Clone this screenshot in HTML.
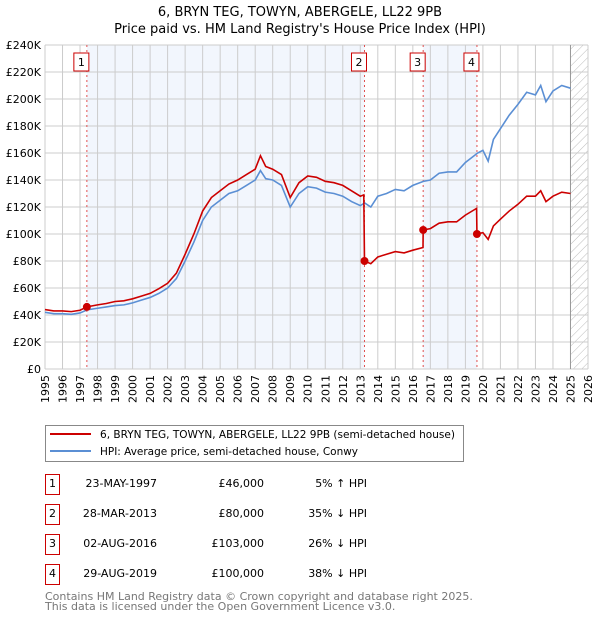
<!DOCTYPE html>
<html><head><meta charset="utf-8"><style>
body{margin:0;background:#fff;font-family:"DejaVu Sans","Liberation Sans",sans-serif;}
svg text{font-family:"DejaVu Sans","Liberation Sans",sans-serif;}
</style></head><body>
<svg id="c" width="600" height="620" xmlns="http://www.w3.org/2000/svg">
<defs><pattern id="hatch" width="6" height="6" patternUnits="userSpaceOnUse" patternTransform="rotate(45)"><line x1="0" y1="0" x2="0" y2="6" stroke="#bbb" stroke-width="1"/></pattern></defs>
<text x="300" y="16" text-anchor="middle" font-size="13">6, BRYN TEG, TOWYN, ABERGELE, LL22 9PB</text>
<text x="300" y="33" text-anchor="middle" font-size="13">Price paid vs. HM Land Registry's House Price Index (HPI)</text>
<g id="plot"></g>
<g>
<rect x="45.5" y="425.5" width="418" height="36" fill="#fff" stroke="#888"/>
<line x1="50" y1="434" x2="91" y2="434" stroke="#cc0000" stroke-width="2"/>
<text x="100" y="438" font-size="11" textLength="355" lengthAdjust="spacingAndGlyphs">6, BRYN TEG, TOWYN, ABERGELE, LL22 9PB (semi-detached house)</text>
<line x1="50" y1="451" x2="91" y2="451" stroke="#5b8fd4" stroke-width="2"/>
<text x="100" y="455" font-size="11" textLength="258" lengthAdjust="spacingAndGlyphs">HPI: Average price, semi-detached house, Conwy</text>
</g>
<g id="table" font-size="11"></g>
<text x="45" y="600" font-size="11" fill="#777">Contains HM Land Registry data © Crown copyright and database right 2025.</text>
<text x="45" y="610" font-size="11" fill="#777">This data is licensed under the Open Government Licence v3.0.</text>
</svg>
<script>
const yearTicks=[1995,1996,1997,1998,1999,2000,2001,2002,2003,2004,2005,2006,2007,2008,2009,2010,2011,2012,2013,2014,2015,2016,2017,2018,2019,2020,2021,2022,2023,2024,2025,2026];
const valueTicks=[0,20,40,60,80,100,120,140,160,180,200,220,240];
const valueLabels=["£0","£20K","£40K","£60K","£80K","£100K","£120K","£140K","£160K","£180K","£200K","£220K","£240K"];
const hpiT=[1995,1995.5,1996,1996.5,1997,1997.4,1998,1998.5,1999,1999.5,2000,2000.5,2001,2001.5,2002,2002.5,2003,2003.5,2004,2004.5,2005,2005.5,2006,2006.5,2007,2007.3,2007.6,2008,2008.5,2009,2009.5,2010,2010.5,2011,2011.5,2012,2012.5,2013,2013.25,2013.6,2014,2014.5,2015,2015.5,2016,2016.6,2017,2017.5,2018,2018.5,2019,2019.7,2020,2020.3,2020.6,2021,2021.5,2022,2022.5,2023,2023.3,2023.6,2024,2024.5,2025];
const hpiV=[42,41,41,40.5,41.5,43.8,45,46,47,47.5,49,51,53,56,60,67,80,94,110,120,125,130,132,136,140,147,141,140,136,120,130,135,134,131,130,128,124,121,123,120,128,130,133,132,136,139,140,145,146,146,153,160,162,154,170,178,188,196,205,203,210,198,206,210,208];
const priceT=[1995,1995.5,1996,1996.5,1997,1997.39,1998,1998.5,1999,1999.5,2000,2000.5,2001,2001.5,2002,2002.5,2003,2003.5,2004,2004.5,2005,2005.5,2006,2006.5,2007,2007.3,2007.6,2008,2008.5,2009,2009.5,2010,2010.5,2011,2011.5,2012,2012.5,2013,2013.2,2013.24,2013.6,2014,2014.5,2015,2015.5,2016,2016.58,2016.59,2017,2017.5,2018,2018.5,2019,2019.64,2019.66,2020,2020.3,2020.6,2021,2021.5,2022,2022.5,2023,2023.3,2023.6,2024,2024.5,2025];
const priceV=[44,43,43,42.5,43.5,46,47.5,48.5,50,50.5,52,54,56,59.5,63.5,71,85,100,117,127,132,137,140,144,148,158,150,148,144,127,138,143,142,139,138,136,132,128,129,80,78,83,85,87,86,88,90,103,104,108,109,109,114,119,100,101,96,106,111,117,122,128,128,132,124,128,131,130];
const saleT=[1997.39,2013.24,2016.59,2019.66];
const saleV=[46,80,103,100];
const saleLabel=["1","2","3","4"];
const saleDate=["23-MAY-1997","28-MAR-2013","02-AUG-2016","29-AUG-2019"];
const salePrice=["£46,000","£80,000","£103,000","£100,000"];
const saleHpi=["5% ↑ HPI","35% ↓ HPI","26% ↓ HPI","38% ↓ HPI"];

const NS="http://www.w3.org/2000/svg";
const X0=45,X1=588,Y0=369,Y1=45;
const xs=t=>X0+(t-1995)*(X1-X0)/31;
const ys=v=>Y0-v*(Y0-Y1)/240;
const plot=document.getElementById('plot');
function mk(tag,attrs,parent){const e=document.createElementNS(NS,tag);for(const k in attrs)e.setAttribute(k,attrs[k]);(parent||plot).appendChild(e);return e;}
let b=mk('rect',{x:xs(saleT[0]),y:Y1,width:xs(saleT[1])-xs(saleT[0]),height:Y0-Y1,fill:'#eef3fc',opacity:0.75});


b=mk('rect',{x:xs(saleT[2]),y:Y1,width:xs(saleT[3])-xs(saleT[2]),height:Y0-Y1,fill:'#eef3fc',opacity:0.75});


b=mk('rect',{x:xs(2025),y:Y1,width:X1-xs(2025),height:Y0-Y1,fill:'url(#hatch)'});


yearTicks.forEach((yr,i)=>{
 const l=mk('line',{x1:xs(yr),x2:xs(yr),y1:Y1,y2:Y0,stroke:'#ccc','stroke-width':1});
 
 
 const tx=xs(yr)+4,ty=Y0+6;
 const t=mk('text',{x:tx,y:ty,'text-anchor':'end','font-size':11,transform:'rotate(-90 '+tx+' '+ty+')'});
 t.textContent=yr;
 
 
});
valueTicks.forEach((v,i)=>{
 const l=mk('line',{x1:X0,x2:X1,y1:ys(v),y2:ys(v),stroke:'#ccc','stroke-width':1});
 
 
 const t=mk('text',{x:X0-4,y:ys(v)+4,'text-anchor':'end','font-size':11});
 t.textContent=valueLabels[i];
 
 
});
const ax=mk('line',{x1:xs(2025),x2:xs(2025),y1:Y1,y2:Y0,stroke:'#999','stroke-width':1});


saleT.forEach((t,i)=>{
 const l=mk('line',{x1:xs(t),x2:xs(t),y1:Y1,y2:Y0,stroke:'#e05050','stroke-width':1,'stroke-dasharray':'2,3'});
 
 
});
const hp=mk('polyline',{points:hpiT.map((t,i)=>xs(t)+','+ys(hpiV[i])).join(' '),fill:'none',stroke:'#5b8fd4','stroke-width':1.6});


const pp=mk('polyline',{points:priceT.map((t,i)=>xs(t)+','+ys(priceV[i])).join(' '),fill:'none',stroke:'#cc0000','stroke-width':1.6});


saleT.forEach((t,i)=>{
 const c=mk('circle',{cx:xs(t),cy:ys(saleV[i]),r:4,fill:'#cc0000'});
 
 
 const r=mk('rect',{x:xs(t)-13,y:53,width:15,height:18,fill:'#fff',stroke:'#cc0000'});
 
 
 const tx=mk('text',{x:xs(t)-5.5,y:66,'text-anchor':'middle','font-size':11});
 tx.textContent=saleLabel[i];
 
 
});
const tb=document.getElementById('table');
saleT.forEach((t,i)=>{
 const y=487+i*30;
 const r=mk('rect',{x:45.5,y:y-12.5,width:14,height:20,fill:'#fff',stroke:'#cc0000'},tb);
 
 
 const cells=[[52.5,'middle',saleLabel[i]],[157,'end',saleDate[i]],[264,'end',salePrice[i]],[367,'end',saleHpi[i]]];
 cells.forEach(([x,a,s],j)=>{
  const e=mk('text',{x:x,y:y,'text-anchor':a},tb);
  e.textContent=s;
  
  
 });
});
</script>
</body></html>
